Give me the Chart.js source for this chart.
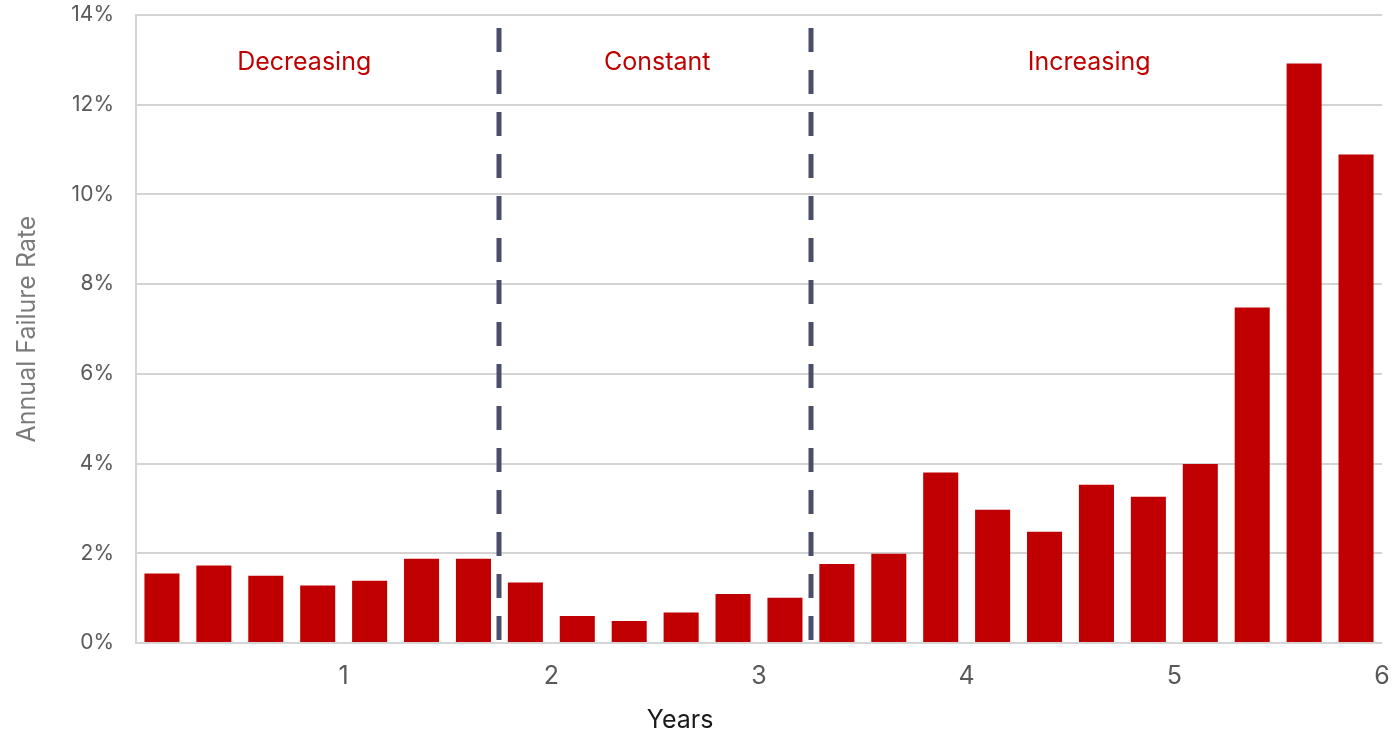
<!DOCTYPE html>
<html>
<head>
<meta charset="utf-8">
<title>Annual Failure Rate by Drive Age</title>
<script src="https://cdn.jsdelivr.net/npm/chart.js@4.4.1/dist/chart.umd.min.js"></script>
<style>
  html, body { margin: 0; padding: 0; background: #ffffff; }
  #wrap { width: 1393px; height: 735px; position: relative; }
</style>
</head>
<body>
<div id="wrap"><canvas id="chart"></canvas></div>
<script>
// Drive age in years (middle of each quarter)
const quarterAge = [
  0.125, 0.375, 0.625, 0.875,
  1.125, 1.375, 1.625, 1.875,
  2.125, 2.375, 2.625, 2.875,
  3.125, 3.375, 3.625, 3.875,
  4.125, 4.375, 4.625, 4.875,
  5.125, 5.375, 5.625, 5.875
];

// Annual failure rate per quarter, in percent
const failureRate = [
  1.55, 1.73, 1.50, 1.28,
  1.39, 1.88, 1.88, 1.35,
  0.60, 0.49, 0.68, 1.09,
  1.01, 1.76, 1.99, 3.80,
  2.97, 2.48, 3.53, 3.26,
  3.99, 7.48, 12.92, 10.89
];

// Year tick labels and percentage ticks
const yearTicks = [1, 2, 3, 4, 5, 6];
const rateTicks = [0, 2, 4, 6, 8, 10, 12, 14];

// Phases of the bathtub curve
const phaseBoundaries = [1.75, 3.25];
const phaseNames = ['Decreasing', 'Constant', 'Increasing'];
const phaseLabelAge = [0.81, 2.51, 4.59];
const phaseLabelRate = 12.95;

// X axis title, set under year 2.62
const xTitle = 'Years';
const xTitleAge = 2.62;

const FONT = 'Inter, "DejaVu Sans", sans-serif';

const phasePlugin = {
  id: 'phases',
  afterDatasetsDraw(chart) {
    const { ctx, chartArea, scales } = chart;
    const x = scales.x, y = scales.y;
    ctx.save();
    ctx.strokeStyle = '#4b4d6d';
    ctx.lineWidth = 5;
    ctx.setLineDash([24, 18]);
    phaseBoundaries.forEach(v => {
      const px = Math.round(x.getPixelForValue(v));
      ctx.beginPath();
      ctx.moveTo(px, chartArea.top + 13);
      ctx.lineTo(px, chartArea.bottom - 2);
      ctx.stroke();
    });
    ctx.setLineDash([]);
    ctx.fillStyle = '#c00000';
    ctx.font = '25px ' + FONT;
    ctx.textAlign = 'center';
    ctx.textBaseline = 'middle';
    phaseNames.forEach((name, i) => {
      ctx.fillText(name, x.getPixelForValue(phaseLabelAge[i]), y.getPixelForValue(phaseLabelRate));
    });
    // axis title below the year labels
    ctx.fillStyle = '#1a1a1a';
    ctx.fillText(xTitle, x.getPixelForValue(xTitleAge), x.bottom - 15);
    ctx.restore();
  }
};

new Chart(document.getElementById('chart'), {
  type: 'bar',
  data: {
    datasets: [{
      label: 'Annual Failure Rate',
      data: quarterAge.map((a, i) => ({ x: a, y: failureRate[i] })),
      backgroundColor: '#c00000',
      borderWidth: 0,
      categoryPercentage: 0.75,
      barPercentage: 0.9
    }]
  },
  options: {
    responsive: true,
    maintainAspectRatio: false,
    animation: false,
    layout: { padding: { left: 0, top: 15, right: 11, bottom: 0 } },
    plugins: {
      legend: { display: false },
      tooltip: { enabled: false }
    },
    scales: {
      x: {
        type: 'linear',
        min: 0,
        max: 6,
        offset: false,
        afterBuildTicks(scale) {
          scale.ticks = yearTicks.map(v => ({ value: v }));
        },
        ticks: {
          color: '#595959',
          font: { family: FONT, size: 25 },
          padding: 18,
          maxRotation: 0,
          callback: v => String(v)
        },
        grid: { display: false, drawTicks: false },
        border: { display: false },
        afterFit(scale) {
          scale.height = 92;
          scale.paddingLeft = 0;
          scale.paddingRight = 0;
        }
      },
      y: {
        min: 0,
        max: 14,
        afterBuildTicks(scale) {
          scale.ticks = rateTicks.map(v => ({ value: v }));
        },
        ticks: {
          color: '#595959',
          font: { family: FONT, size: 21 },
          padding: 22,
          callback: v => v + '%'
        },
        grid: { color: '#d4d4d4', lineWidth: 2, drawTicks: false },
        border: { display: true, color: '#d4d4d4', width: 2 },
        title: {
          display: true,
          text: 'Annual Failure Rate',
          color: '#7a7a7a',
          font: { family: FONT, size: 25 },
          padding: { top: 12, bottom: 0 }
        },
        afterFit(scale) {
          scale.width = 136;
          scale.paddingTop = 0;
          scale.paddingBottom = 0;
        }
      }
    }
  },
  plugins: [phasePlugin]
});
</script>
</body>
</html>
